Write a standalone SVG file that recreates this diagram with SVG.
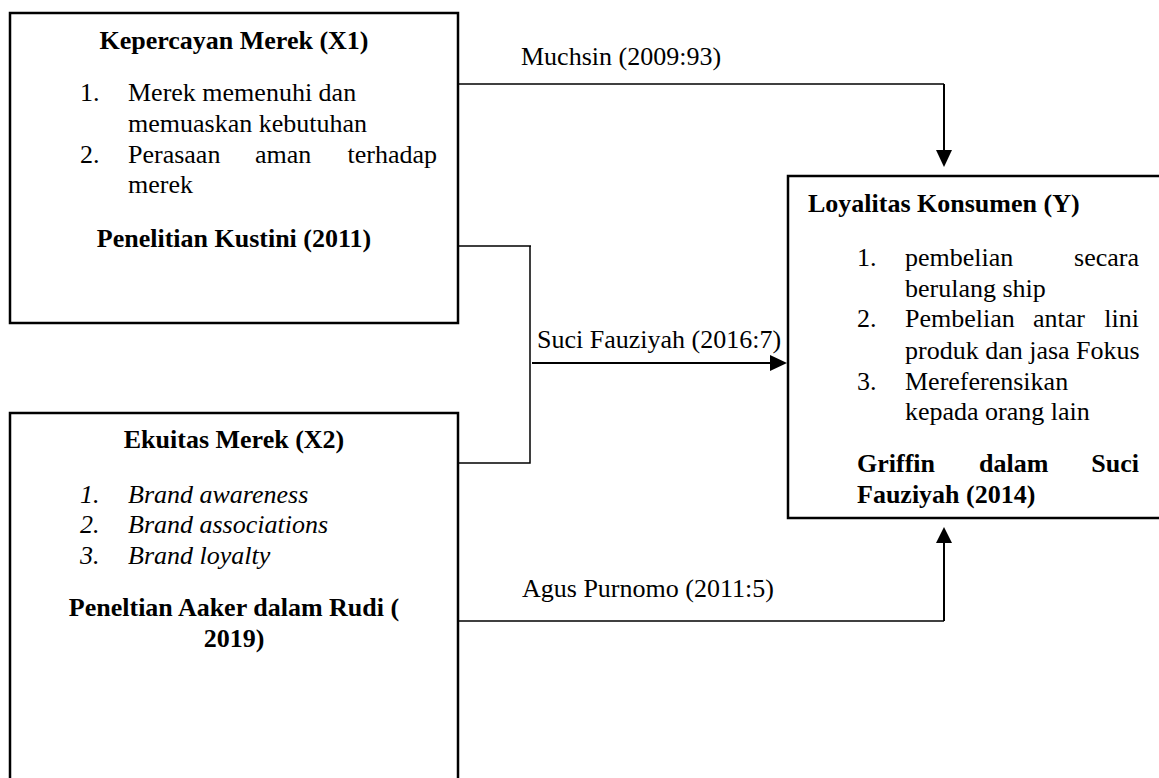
<svg xmlns="http://www.w3.org/2000/svg" width="1159" height="778" viewBox="0 0 1159 778" font-family="Liberation Serif, DejaVu Serif, serif">
<style>
text{font-size:26px;fill:#000}
.b{font-weight:bold}
.i{font-style:italic}
.c{text-anchor:middle}
.e{text-anchor:end}
.box{fill:#fff;stroke:#000;stroke-width:2.5}
.ln{fill:none;stroke:#000;stroke-width:1.5}
.sh{fill:none;stroke:#000;stroke-width:2}
.ah{fill:#000;stroke:none}
</style>
<rect width="1159" height="778" fill="#fff"/>
<g id="x1">
<rect class="box" x="10" y="13" width="448" height="310"/>
<text class="b c" x="234" y="49">Kepercayan Merek (X1)</text>
<text x="80" y="101">1.</text>
<text x="128" y="101">Merek memenuhi  dan</text>
<text x="128" y="132">memuaskan kebutuhan</text>
<text x="80" y="163">2.</text>
<text x="128" y="163">Perasaan</text>
<text x="255" y="163">aman</text>
<text class="e" x="437" y="163">terhadap</text>
<text x="128" y="193">merek</text>
<text class="b c" x="234" y="247">Penelitian Kustini (2011)</text>
</g>
<g id="x2">
<rect class="box" x="10" y="413" width="448" height="400"/>
<text class="b c" x="234" y="448">Ekuitas Merek (X2)</text>
<text class="i" x="80" y="503">1.</text>
<text class="i" x="128" y="503">Brand awareness</text>
<text class="i" x="80" y="533">2.</text>
<text class="i" x="128" y="533">Brand associations</text>
<text class="i" x="80" y="564">3.</text>
<text class="i" x="128" y="564">Brand loyalty</text>
<text class="b c" x="234" y="616">Peneltian Aaker dalam Rudi (</text>
<text class="b c" x="234" y="647">2019)</text>
</g>
<g id="y">
<rect class="box" x="788" y="176" width="380" height="342"/>
<text class="b" x="808" y="212">Loyalitas Konsumen (Y)</text>
<text x="857" y="266">1.</text>
<text x="905" y="266">pembelian</text>
<text class="e" x="1139" y="266">secara</text>
<text x="905" y="297">berulang ship</text>
<text x="857" y="327">2.</text>
<text x="905" y="327">Pembelian</text>
<text x="1033" y="327">antar</text>
<text class="e" x="1139" y="327">lini</text>
<text x="905" y="359">produk dan jasa Fokus</text>
<text x="857" y="390">3.</text>
<text x="905" y="390">Mereferensikan</text>
<text x="905" y="420">kepada orang lain</text>
<text class="b" x="857" y="472">Griffin</text>
<text class="b" x="979" y="472">dalam</text>
<text class="b e" x="1139" y="472">Suci</text>
<text class="b" x="857" y="503">Fauziyah (2014)</text>
</g>
<g id="connectors">
<polyline class="ln" points="458,84 944,84"/>
<line class="sh" x1="944" y1="84" x2="944" y2="152"/>
<polygon class="ah" points="936,150 952,150 944,167"/>
<text x="521" y="65">Muchsin (2009:93)</text>
<polyline class="ln" points="458,246 531,246 530,246 530,463 458,463"/>
<line class="sh" x1="532" y1="363" x2="772" y2="363"/>
<polygon class="ah" points="770,355 770,371 787,363"/>
<text x="537" y="348">Suci Fauziyah (2016:7)</text>
<polyline class="ln" points="458,621 944,621"/>
<line class="sh" x1="944" y1="621" x2="944" y2="541"/>
<polygon class="ah" points="936,543 952,543 944,527"/>
<text x="522" y="597">Agus Purnomo (2011:5)</text>
</g>
</svg>
